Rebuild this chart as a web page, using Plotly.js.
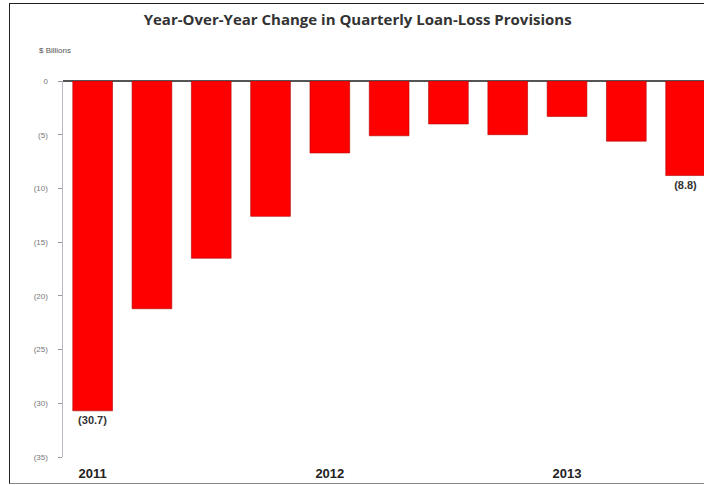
<!DOCTYPE html>
<html><head><meta charset="utf-8">
<script src="https://cdn.plot.ly/plotly-3.0.1.min.js"></script>
<style>
body{margin:0;padding:0;background:#fff;}
#wrap{position:relative;width:704px;height:485px;overflow:hidden;}
#chart{position:absolute;left:0;top:0;width:704px;height:485px;}
#frame{position:absolute;left:9px;top:3px;width:720px;height:479px;border-left:1.5px solid #222;border-top:1.5px solid #222;border-bottom:1.5px solid #888;pointer-events:none;}
</style></head>
<body><div id="wrap"><div id="chart"></div><div id="frame"></div></div>
<script>
const quarters = ["2011Q1","2011Q2","2011Q3","2011Q4","2012Q1","2012Q2","2012Q3","2012Q4","2013Q1","2013Q2","2013Q3"];
const change = [-30.7,-21.2,-16.5,-12.6,-6.7,-5.1,-4.0,-5.0,-3.3,-5.6,-8.8];
const barLabels = ["(30.7)","","","","","","","","","","(8.8)"];
const yearTickVals = ["2011Q1","2012Q1","2013Q1"];
const yearTickText = ["2011","2012","2013"];
const yTickVals = [0,-5,-10,-15,-20,-25,-30,-35];
const yTickText = ["0","(5)","(10)","(15)","(20)","(25)","(30)","(35)"];

const trace = {
  type:'bar', x:quarters, y:change,
  marker:{color:'#ff0000', line:{color:'#b00000', width:0.6}},
  text:barLabels, textposition:'outside', cliponaxis:false,
  textfont:{family:'Liberation Sans, Arial, sans-serif', size:11, color:'#333', weight:'bold'},
  hoverinfo:'none'
};
const layout = {
  width:704, height:485,
  margin:{l:63, r:0, t:81, b:28},
  paper_bgcolor:'#fff', plot_bgcolor:'#fff',
  showlegend:false,
  bargap:0.33,
  title:{text:'<b>Year-Over-Year Change in Quarterly Loan-Loss Provisions</b>',
    font:{family:'Open Sans, sans-serif', size:15, color:'#333'}, x:0.508, xref:'container', xanchor:'center', y:0.959, yanchor:'middle', yref:'container'},
  xaxis:{type:'category', range:[-0.5,10.31], tickmode:'array', tickvals:yearTickVals, ticktext:yearTickText,
    showgrid:false, showline:false, zeroline:false, ticks:'',
    tickfont:{family:'Liberation Sans, Arial, sans-serif', size:13, color:'#222', weight:'bold'}, ticklabelstandoff:7},
  yaxis:{range:[-35,0], tickmode:'array', tickvals:yTickVals, ticktext:yTickText,
    showgrid:false, showline:true, linecolor:'#b8bcc8', linewidth:1.5,
    zeroline:true, zerolinecolor:'#555', zerolinewidth:1.2,
    ticks:'outside', ticklen:4, tickcolor:'#999', tickwidth:1,
    tickfont:{family:'Liberation Sans, Arial, sans-serif', size:8, color:'#777'}, ticklabelstandoff:8},
  annotations:[{text:'$ Billions', xref:'paper', yref:'paper', x:-0.041, y:1.0, yshift:31, xanchor:'left', yanchor:'middle', showarrow:false,
    font:{family:'Liberation Sans, Arial, sans-serif', size:8, color:'#555'}}]
};
Plotly.newPlot('chart',[trace],layout,{displayModeBar:false, staticPlot:true});
</script></body></html>
